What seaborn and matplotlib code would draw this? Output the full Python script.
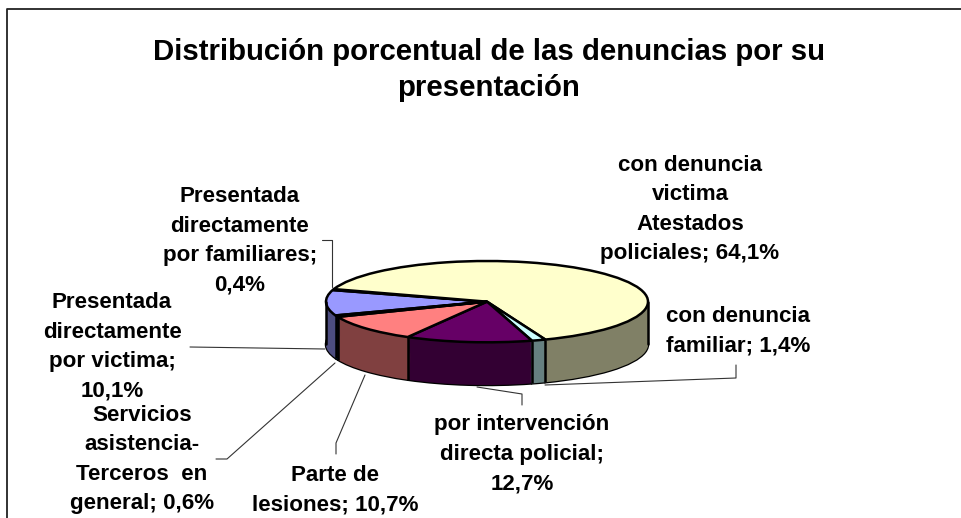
import matplotlib
matplotlib.use('Agg')
import matplotlib.pyplot as plt
import numpy as np
import seaborn as sns
from matplotlib.lines import Line2D

W, H = 962, 518
TITLE = 'Distribución porcentual de las denuncias por su\npresentación'
LABELS = [
    'Presentada\ndirectamente\npor victima;\n10,1%',
    'Presentada\ndirectamente\npor familiares;\n0,4%',
    'con denuncia\nvictima\nAtestados\npoliciales; 64,1%',
    'con denuncia\nfamiliar; 1,4%',
    'por intervención\ndirecta policial;\n12,7%',
    'Parte de\nlesiones; 10,7%',
    'Servicios\nasistencia-\nTerceros  en\ngeneral; 0,6%',
]
VALUES = [10.1, 0.4, 64.1, 1.4, 12.7, 10.7, 0.6]
COLORS = ['#9999FF', '#993366', '#FFFFCC', '#CCFFFF', '#660066', '#FF8080', '#0066CC']

# label centre in pixels
LABEL_POS = [(112, 347), (240, 241), (690, 209.5), (738, 331.5), (522, 454.5), (335, 490.5), (142, 459.5)]
LEADERS = [
    [(190, 347), (325, 349)],
    [(322, 240), (332, 240), (332, 287)],
    [(736, 365), (736, 378), (545, 385)],
    [(522, 405), (522, 394), (477, 387)],
    [(336, 454), (336, 443), (365, 375)],
    [(216, 459), (227, 459), (335, 363)],
]
START_ANGLE = 162 + 360 * (10.1 + 0.4) / 100
DEPTH = 1.05
STEPS = 45


def px(x: float, y: float) -> tuple:
    """Pixel position to figure fraction."""
    return x / W, 1 - y / H


def draw_pie(ax, colors, center_y, edge, linewidth):
    """Draws one layer of the pie."""
    return ax.pie(
        VALUES,
        colors=colors,
        startangle=START_ANGLE,
        counterclock=False,
        center=(0, center_y),
        radius=1,
        wedgeprops={'edgecolor': edge, 'linewidth': linewidth, 'clip_on': False},
    )


def main() -> None:
    """Main function of this script."""
    sns.set_theme(style='white')
    plt.rcParams['font.family'] = ['Liberation Sans', 'DejaVu Sans']
    palette = sns.color_palette(COLORS)
    walls = [tuple(c * 0.5 for c in color) for color in palette]

    fig = plt.figure(figsize=(W / 100, H / 100), dpi=100, facecolor='white')
    left, top = 326, 261
    right, bottom = 648, 343 + 42
    ax = fig.add_axes([left / W, 1 - bottom / H, (right - left) / W, (bottom - top) / H])

    # walls: lower rim first, then stacked layers, then the top face
    draw_pie(ax, walls, -DEPTH, 'black', 1.8)
    for depth in np.linspace(DEPTH, 0, STEPS):
        draw_pie(ax, walls, -depth, 'none', 0)
    draw_pie(ax, palette, 0, 'black', 1.8)

    # vertical edges where the slices meet on the front of the wall
    edges = START_ANGLE - np.cumsum(VALUES) * 3.6
    for angle in np.radians(edges):
        if np.sin(angle) < 0:
            x, y = np.cos(angle), np.sin(angle)
            ax.plot([x, x], [y, y - DEPTH], color='black', lw=1.8, solid_capstyle='butt', clip_on=False)
    for x in (-1, 1):
        ax.plot([x, x], [0, -DEPTH], color='black', lw=1.8, clip_on=False)

    ax.set_aspect('auto')
    ax.set_xlim(-1, 1)
    ax.set_ylim(-1 - DEPTH, 1)
    ax.axis('off')

    # chart frame: only top and left edges are in view
    fig.add_artist(Line2D(*zip(px(962, 9), px(7.5, 9), px(7.5, 518)), color='#222222', lw=1.3))

    for points in LEADERS:
        fig.add_artist(Line2D(*zip(*[px(*p) for p in points]), color='#333333', lw=0.8))

    fig.text(*px(489, 70), TITLE, ha='center', va='center', ma='center',
             fontsize=21.2, fontweight='bold', linespacing=1.38, color='black')
    for label, pos in zip(LABELS, LABEL_POS):
        fig.text(*px(*pos), label, ha='center', va='center', ma='center',
                 fontsize=16.1, fontweight='bold', linespacing=1.54, color='black')

    fig.savefig('out.png', dpi=100, facecolor='white')


if __name__ == '__main__':
    main()
